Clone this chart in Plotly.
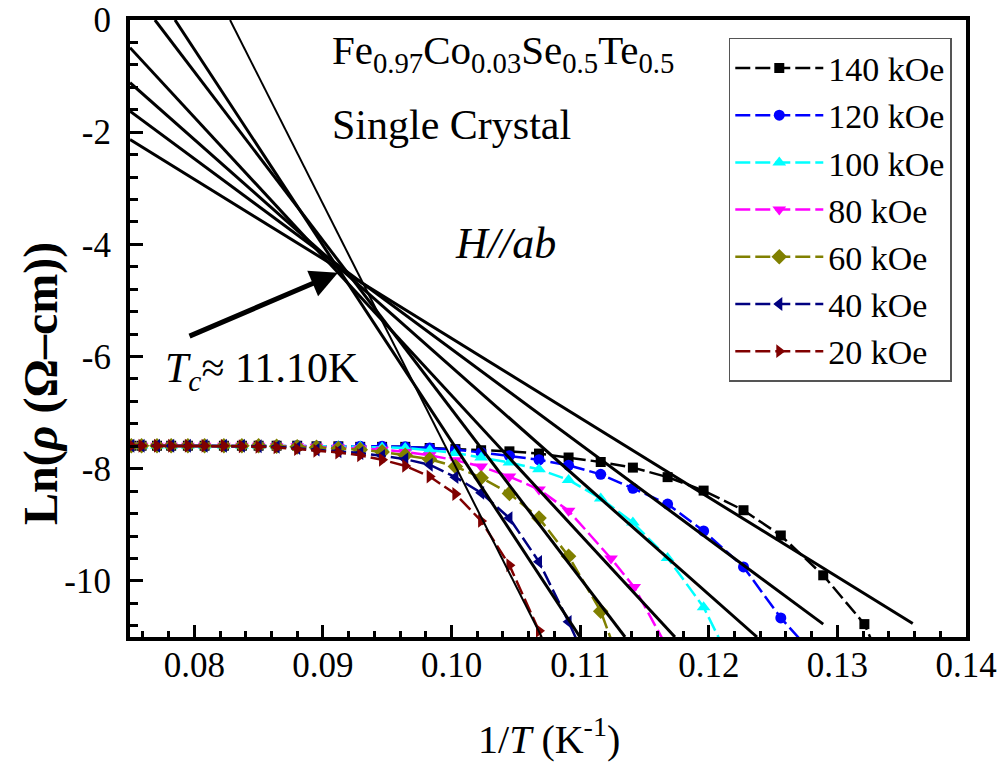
import plotly.graph_objects as go

# ---------------- data ----------------
X_GRID = [0.0751, 0.0759, 0.0771, 0.0782, 0.0795, 0.0808, 0.0823, 0.0837, 0.0850,
          0.0864, 0.0880, 0.0895, 0.0912, 0.0929, 0.0946, 0.0964, 0.0983, 0.1003,
          0.1023, 0.1045, 0.1068, 0.1091, 0.1116, 0.1141, 0.1168, 0.1196, 0.1227,
          0.1256, 0.1289, 0.1321, 0.1356]

Y_140 = [-7.59, -7.59, -7.59, -7.59, -7.59, -7.59, -7.59, -7.59, -7.59, -7.59,
         -7.59, -7.60, -7.60, -7.61, -7.61, -7.61, -7.63, -7.65, -7.67, -7.69,
         -7.73, -7.80, -7.88, -7.98, -8.15, -8.39, -8.74, -9.19, -9.90, -10.77, -12.6]
Y_120 = [-7.59, -7.59, -7.59, -7.59, -7.59, -7.59, -7.59, -7.59, -7.59, -7.59,
         -7.59, -7.60, -7.60, -7.60, -7.60, -7.61, -7.63, -7.66, -7.71, -7.77,
         -7.84, -7.94, -8.10, -8.35, -8.63, -9.11, -9.75, -10.66, -11.5]
Y_100 = [-7.59, -7.59, -7.59, -7.59, -7.59, -7.59, -7.59, -7.59, -7.59, -7.59,
         -7.59, -7.60, -7.60, -7.61, -7.62, -7.63, -7.67, -7.72, -7.80, -7.89,
         -8.01, -8.20, -8.53, -8.96, -9.59, -10.47, -11.9]
X_80 = [0.0751, 0.0759, 0.0771, 0.0782, 0.0795, 0.0808, 0.0823, 0.0837, 0.0850,
        0.0864, 0.0880, 0.0895, 0.0912, 0.0929, 0.0946, 0.0964, 0.0983, 0.1003,
        0.1023, 0.1045, 0.1068, 0.1091, 0.1124, 0.1142, 0.1168]
Y_80 = [-7.59, -7.59, -7.59, -7.59, -7.59, -7.59, -7.59, -7.59, -7.59, -7.60,
        -7.60, -7.61, -7.62, -7.64, -7.66, -7.70, -7.76, -7.85, -7.96, -8.14,
        -8.37, -8.75, -9.60, -10.11, -11.2]
Y_60 = [-7.59, -7.59, -7.59, -7.59, -7.59, -7.59, -7.59, -7.59, -7.59, -7.60,
        -7.61, -7.62, -7.64, -7.66, -7.70, -7.76, -7.83, -7.96, -8.16, -8.44,
        -8.88, -9.56, -10.54, -12.1]
Y_40 = [-7.59, -7.59, -7.59, -7.59, -7.59, -7.59, -7.59, -7.59, -7.60, -7.61,
        -7.63, -7.66, -7.69, -7.72, -7.77, -7.83, -7.93, -8.15, -8.43, -8.88,
        -9.66, -10.73, -12.0]
Y_20 = [-7.59, -7.59, -7.59, -7.59, -7.59, -7.59, -7.59, -7.60, -7.61, -7.62,
        -7.65, -7.68, -7.71, -7.76, -7.84, -7.95, -8.14, -8.45, -8.93, -9.72,
        -10.89, -12.4]

SERIES_NAMES = ["140 kOe", "120 kOe", "100 kOe", "80 kOe", "60 kOe", "40 kOe", "20 kOe"]
SERIES_X = [X_GRID, X_GRID, X_GRID, X_80, X_GRID, X_GRID, X_GRID]
SERIES_Y = [Y_140, Y_120, Y_100, Y_80, Y_60, Y_40, Y_20]

# linear fits (start / end points)
FIT_X0 = [0.0750, 0.0750, 0.0750, 0.0750, 0.07694, 0.07850, 0.08278]
FIT_Y0 = [-2.13, -1.625, -1.118, -0.493, 0.0, 0.0, 0.0]
FIT_X1 = [0.13586, 0.12890, 0.12375, 0.11737, 0.11349, 0.10999, 0.10701]
FIT_Y1 = [-10.76, -10.77, -11.0, -11.0, -11.0, -11.0, -11.0]

X_TICKS = [0.08, 0.09, 0.10, 0.11, 0.12, 0.13, 0.14]
X_TICKTEXT = ["0.08", "0.09", "0.10", "0.11", "0.12", "0.13", "0.14"]
Y_TICKS = [0, -2, -4, -6, -8, -10]
Y_TICKTEXT = ["0", "-2", "-4", "-6", "-8", "-10"]

# ---------------- style ----------------
FONT = "Liberation Serif"
COLORS = ["#000000", "#0000FF", "#00FFFF", "#FF00FF", "#808000", "#000080", "#800000"]
SYMBOLS = ["square", "circle", "triangle-up", "triangle-down", "diamond",
           "triangle-left", "triangle-right"]
SIZES = [10, 11, 12, 12, 12, 12, 12]
FIT_WIDTHS = [3, 3, 3, 3, 3, 3, 2]

fig = go.Figure()
for name, xs, ys, c, s, sz in zip(SERIES_NAMES, SERIES_X, SERIES_Y, COLORS, SYMBOLS, SIZES):
    fig.add_trace(go.Scatter(
        x=xs[:len(ys)], y=ys, name=name, mode="lines+markers",
        line=dict(color=c, width=2.5, dash="15px,5px"),
        marker=dict(symbol=s, size=sz, color=c),
    ))

for x0, y0, x1, y1, w in zip(FIT_X0, FIT_Y0, FIT_X1, FIT_Y1, FIT_WIDTHS):
    fig.add_trace(go.Scatter(
        x=[x0, x1], y=[y0, y1], mode="lines", showlegend=False,
        line=dict(color="black", width=w), hoverinfo="skip",
    ))

axis_common = dict(
    showgrid=False, zeroline=False, showline=True, linewidth=4, linecolor="black",
    mirror=True, ticks="inside", tickwidth=3, tickcolor="black", automargin=False,
    ticklabeloverflow="allow",
    tickfont=dict(family=FONT, size=35, color="black"),
)

fig.update_xaxes(
    range=[0.075, 0.14], tickvals=X_TICKS, ticktext=X_TICKTEXT, ticklen=12,
    minor=dict(tick0=0.08, dtick=0.002, ticks="inside", ticklen=6, tickwidth=3, tickcolor="black"),
    ticklabelstandoff=-6,
    **axis_common,
)
fig.update_yaxes(
    range=[-11, 0], tickvals=Y_TICKS, ticktext=Y_TICKTEXT, ticklen=13,
    minor=dict(tick0=0, dtick=0.4, ticks="inside", ticklen=8, tickwidth=3, tickcolor="black"),
    ticklabelstandoff=8,
    **axis_common,
)

# axis titles
fig.add_annotation(x=0.501, y=-0.162, xref="paper", yref="paper", xanchor="center", yanchor="middle",
                   text="1/<i>T</i> (K<sup>-1</sup>)", showarrow=False,
                   font=dict(family=FONT, size=40, color="black"))
fig.add_annotation(x=-0.1065, y=0.4117, xref="paper", yref="paper", xanchor="center", yanchor="middle",
                   text="<b>Ln(<i>ρ</i> (Ω–cm))</b>", showarrow=False, textangle=-90,
                   font=dict(family=FONT, size=48, color="black"))

ANN_FONT = dict(family=FONT, size=42, color="black")
fig.add_annotation(x=0.09055, y=-0.58, xref="x", yref="y", xanchor="left", yanchor="middle",
                   text="Fe<sub>0.97</sub>Co<sub>0.03</sub>Se<sub>0.5</sub>Te<sub>0.5</sub>",
                   showarrow=False, font=dict(family=FONT, size=41, color="black"))
fig.add_annotation(x=0.09055, y=-1.88, xref="x", yref="y", xanchor="left", yanchor="middle",
                   text="Single Crystal", showarrow=False, font=ANN_FONT)
fig.add_annotation(x=0.10011, y=-3.99, xref="x", yref="y", xanchor="left", yanchor="middle",
                   text="<i>H//ab</i>", showarrow=False, font=dict(family=FONT, size=44, color="black"))
fig.add_annotation(x=0.07757, y=-6.26, xref="x", yref="y", xanchor="left", yanchor="middle",
                   text="<i>T</i><sub><i>c</i></sub>≈ 11.10K", showarrow=False,
                   font=dict(family=FONT, size=42, color="black"))

ARROW_TAIL = (0.07951, -5.648)
ARROW_TIP = (0.09117, -4.505)
fig.add_annotation(x=ARROW_TIP[0], y=ARROW_TIP[1], ax=ARROW_TAIL[0], ay=ARROW_TAIL[1],
                   xref="x", yref="y", axref="x", ayref="y", text="", showarrow=True,
                   arrowhead=2, arrowsize=1.1, arrowwidth=5, arrowcolor="black", standoff=0)

# the page body adds an 8 px offset; margins compensate so the plot lands where the reference has it
fig.update_layout(
    width=1005, height=763,
    margin=dict(l=122, r=47, t=12, b=134),
    paper_bgcolor="white", plot_bgcolor="white",
    font=dict(family=FONT, color="black"),
    showlegend=True,
    legend=dict(
        x=0.983, y=0.971, xanchor="right", yanchor="top",
        bgcolor="white", bordercolor="#555555", borderwidth=1.5,
        font=dict(family=FONT, size=34, color="black"),
        itemwidth=88, tracegroupgap=0,
    ),
)

fig.write_html("out.html")
